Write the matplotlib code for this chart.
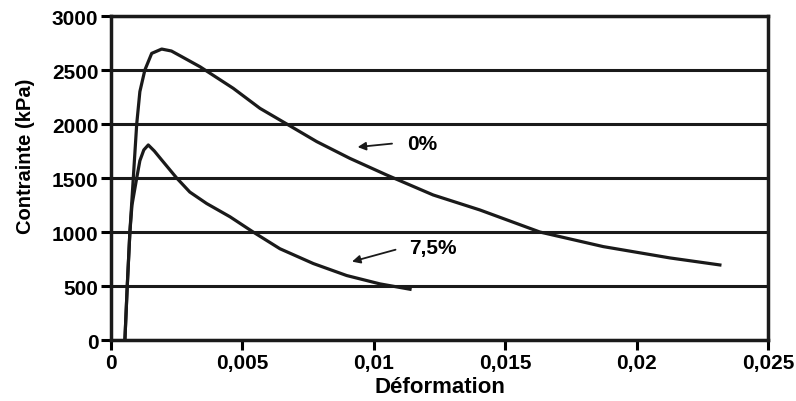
import matplotlib.pyplot as plt

# courbes
x_0 = [0.00053, 0.00062, 0.00072, 0.00085, 0.00098, 0.00110, 0.00129, 0.00155,
       0.00193, 0.00230, 0.00269, 0.00339, 0.00465, 0.00567, 0.00662, 0.00783,
       0.00909, 0.01049, 0.01226, 0.01404, 0.01632, 0.01873, 0.02127, 0.02317]
y_0 = [0, 500, 1000, 1500, 2000, 2300, 2500, 2654, 2694, 2676, 2624, 2530,
       2331, 2145, 2010, 1837, 1682, 1528, 1343, 1204, 1000, 865, 760, 695]

x_75 = [0.00053, 0.00062, 0.00072, 0.00080, 0.00098, 0.00110, 0.00125, 0.00142,
        0.00165, 0.00193, 0.0025, 0.00300, 0.00364, 0.00453, 0.00541, 0.00643,
        0.0077, 0.00897, 0.01023, 0.01138]
y_75 = [0, 500, 1000, 1250, 1500, 1660, 1760, 1806, 1750, 1667, 1500, 1370,
        1264, 1141, 1000, 845, 708, 597, 520, 470]

xticks = [0, 0.005, 0.01, 0.015, 0.02, 0.025]
xlabels = ["0", "0,005", "0,01", "0,015", "0,02", "0,025"]
yticks = [0, 500, 1000, 1500, 2000, 2500, 3000]

plt.rcParams['font.family'] = ['Liberation Sans', 'DejaVu Sans']
plt.rcParams['font.weight'] = 'bold'

fig = plt.figure(figsize=(7.96, 4.02), dpi=100)
ax = fig.add_axes([0.1394, 0.1517, 0.8254, 0.806])

for y in yticks:
    ax.axhline(y, color='#1a1a1a', lw=2.2, zorder=1)

ax.plot(x_0, y_0, color='#1a1a1a', lw=2.3, zorder=2, solid_joinstyle='round')
ax.plot(x_75, y_75, color='#1a1a1a', lw=2.3, zorder=2, solid_joinstyle='round')

ax.annotate('', xy=(0.00928, 1784), xytext=(0.0108, 1821),
            arrowprops=dict(arrowstyle='-|>', lw=1.3, color='#1a1a1a', mutation_scale=12))
ax.annotate('', xy=(0.00907, 719), xytext=(0.01093, 843),
            arrowprops=dict(arrowstyle='-|>', lw=1.3, color='#1a1a1a', mutation_scale=12))
ax.text(0.01126, 1815, "0%", fontsize=15, fontweight='bold', ha='left', va='center')
ax.text(0.01134, 856, "7,5%", fontsize=15, fontweight='bold', ha='left', va='center')

ax.set_xlim(0, 0.025)
ax.set_ylim(0, 3000)
ax.set_xticks(xticks)
ax.set_xticklabels(xlabels)
ax.set_yticks(yticks)
ax.tick_params(direction='out', length=7, width=2.2, labelsize=15, pad=2)
for s in ax.spines.values():
    s.set_linewidth(2.5)
    s.set_color('#1a1a1a')

ax.set_xlabel("Déformation", fontsize=16, fontweight='bold', labelpad=3)
ax.set_ylabel("Contrainte (kPa)", fontsize=14.5, fontweight='bold')
ax.yaxis.set_label_coords(-0.115, 0.57)

fig.savefig("out.png")
